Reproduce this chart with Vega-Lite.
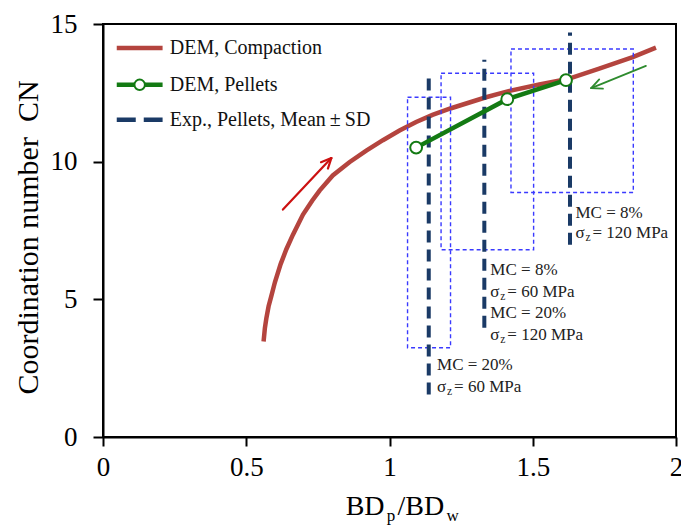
{
  "$schema": "https://vega.github.io/schema/vega-lite/v6.json",
  "width": 573,
  "height": 413,
  "autosize": {"type": "none"},
  "padding": {"left": 103, "top": 24, "right": 5, "bottom": 90},
  "background": "white",
  "config": {
    "font": "Liberation Serif",
    "view": {"stroke": "black", "strokeWidth": 2},
    "text": {"font": "Liberation Serif"},
    "axis": {
      "grid": false,
      "domainColor": "black",
      "domainWidth": 2,
      "tickColor": "black",
      "tickWidth": 2,
      "labelColor": "black",
      "labelFont": "Liberation Serif",
      "labelFontWeight": "normal",
      "titleFont": "Liberation Serif",
      "titleFontWeight": "normal",
      "titleColor": "black",
      "labelFlush": false,
      "labelOverlap": false,
      "labelBound": false
    }
  },
  "layer": [
    {
      "data": {"values": [
        {"x": 0.5605, "y": 3.47}, {"x": 0.565, "y": 3.95}, {"x": 0.570, "y": 4.30},
        {"x": 0.578, "y": 4.75}, {"x": 0.587, "y": 5.10}, {"x": 0.600, "y": 5.62},
        {"x": 0.620, "y": 6.28}, {"x": 0.640, "y": 6.82}, {"x": 0.663, "y": 7.35},
        {"x": 0.698, "y": 8.08}, {"x": 0.730, "y": 8.58}, {"x": 0.756, "y": 8.95},
        {"x": 0.802, "y": 9.50}, {"x": 0.860, "y": 9.98}, {"x": 0.919, "y": 10.40},
        {"x": 0.977, "y": 10.78}, {"x": 1.035, "y": 11.13}, {"x": 1.093, "y": 11.44},
        {"x": 1.150, "y": 11.70}, {"x": 1.215, "y": 11.94}, {"x": 1.337, "y": 12.34},
        {"x": 1.419, "y": 12.57}, {"x": 1.523, "y": 12.80}, {"x": 1.622, "y": 13.00},
        {"x": 1.732, "y": 13.38}, {"x": 1.849, "y": 13.80}, {"x": 1.930, "y": 14.14}
      ]},
      "mark": {"type": "line", "color": "#b4443e", "strokeWidth": 4.5},
      "encoding": {
        "x": {"field": "x", "type": "quantitative",
          "scale": {"domain": [0, 2], "nice": false, "zero": false},
          "axis": {"values": [0, 0.5, 1, 1.5, 2], "format": "~g", "tickSize": 9,
            "labelFontSize": 27, "labelPadding": 8, "title": null}},
        "y": {"field": "y", "type": "quantitative",
          "scale": {"domain": [0, 15], "nice": false, "zero": false},
          "axis": {"values": [0, 5, 10, 15], "tickSize": 10, "labelFontSize": 27,
            "labelPadding": 16, "title": "Coordination number\u00a0 CN",
            "titleFontSize": 30, "titleAngle": -90, "titleAlign": "center",
            "titleBaseline": "alphabetic", "titleX": -66, "titleY": 213}}
      }
    },
    {
      "data": {"values": [
        {"x": 1.063, "x2": 1.213, "y": 3.24, "y2": 12.34},
        {"x": 1.180, "x2": 1.503, "y": 6.80, "y2": 13.21},
        {"x": 1.424, "x2": 1.851, "y": 8.88, "y2": 14.09}
      ]},
      "mark": {"type": "rect", "fill": null, "fillOpacity": 0, "stroke": "#3a3aff", "strokeWidth": 1.4, "strokeDash": [4, 3]},
      "encoding": {
        "x": {"field": "x", "type": "quantitative"},
        "x2": {"field": "x2"},
        "y": {"field": "y", "type": "quantitative"},
        "y2": {"field": "y2"}
      }
    },
    {
      "data": {"values": [
        {"x": 1.137, "y": 1.54, "y2": 13.09},
        {"x": 1.331, "y": 3.97, "y2": 13.70},
        {"x": 1.630, "y": 6.98, "y2": 14.69}
      ]},
      "mark": {"type": "rule", "color": "#1a3a66", "strokeWidth": 4, "strokeDash": [12, 7]},
      "encoding": {
        "x": {"field": "x", "type": "quantitative"},
        "y": {"field": "y", "type": "quantitative"},
        "y2": {"field": "y2"}
      }
    },
    {
      "data": {"values": [
        {"x": 1.093, "y": 10.51}, {"x": 1.411, "y": 12.27}, {"x": 1.616, "y": 12.96}
      ]},
      "layer": [
        {"mark": {"type": "line", "color": "#137a13", "strokeWidth": 4.5}},
        {"mark": {"type": "point", "shape": "circle", "filled": true, "fill": "white", "stroke": "#137a13", "strokeWidth": 2, "size": 140, "opacity": 1}}
      ],
      "encoding": {
        "x": {"field": "x", "type": "quantitative"},
        "y": {"field": "y", "type": "quantitative"}
      }
    },
    {
      "data": {"values": [
        {"x": 0.628, "y": 8.26, "x2": 0.797, "y2": 10.13},
        {"x": 0.797, "y": 10.13, "x2": 0.761, "y2": 9.98},
        {"x": 0.797, "y": 10.13, "x2": 0.785, "y2": 9.75}
      ]},
      "mark": {"type": "rule", "color": "#cc1111", "strokeWidth": 2.2, "strokeCap": "round"},
      "encoding": {
        "x": {"field": "x", "type": "quantitative"},
        "y": {"field": "y", "type": "quantitative"},
        "x2": {"field": "x2"},
        "y2": {"field": "y2"}
      }
    },
    {
      "data": {"values": [
        {"x": 1.895, "y": 13.48, "x2": 1.704, "y2": 12.67},
        {"x": 1.704, "y": 12.67, "x2": 1.745, "y2": 12.65},
        {"x": 1.704, "y": 12.67, "x2": 1.732, "y2": 12.99}
      ]},
      "mark": {"type": "rule", "color": "#2e8b2e", "strokeWidth": 1.8, "strokeCap": "round"},
      "encoding": {
        "x": {"field": "x", "type": "quantitative"},
        "y": {"field": "y", "type": "quantitative"},
        "x2": {"field": "x2"},
        "y2": {"field": "y2"}
      }
    },
    {
      "data": {"values": [{"x": 0.048, "x2": 0.208, "y": 14.13}]},
      "mark": {"type": "rule", "color": "#b4443e", "strokeWidth": 4.5},
      "encoding": {
        "x": {"field": "x", "type": "quantitative"},
        "x2": {"field": "x2"},
        "y": {"field": "y", "type": "quantitative"}
      }
    },
    {
      "data": {"values": [{"x": 0.048, "x2": 0.208, "y": 12.79, "xm": 0.128}]},
      "layer": [
        {"mark": {"type": "rule", "color": "#137a13", "strokeWidth": 4.5},
          "encoding": {
            "x": {"field": "x", "type": "quantitative"},
            "x2": {"field": "x2"},
            "y": {"field": "y", "type": "quantitative"}
          }},
        {"mark": {"type": "point", "shape": "circle", "filled": true, "fill": "white", "stroke": "#137a13", "strokeWidth": 2, "size": 110, "opacity": 1},
          "encoding": {
            "x": {"field": "xm", "type": "quantitative"},
            "y": {"field": "y", "type": "quantitative"}
          }}
      ]
    },
    {
      "data": {"values": [{"x": 0.048, "x2": 0.208, "y": 11.52}]},
      "mark": {"type": "rule", "color": "#1a3a66", "strokeWidth": 4.5, "strokeDash": [19, 8]},
      "encoding": {
        "x": {"field": "x", "type": "quantitative"},
        "x2": {"field": "x2"},
        "y": {"field": "y", "type": "quantitative"}
      }
    },
    {
      "data": {"values": [
        {"x": 0.233, "y": 14.13, "label": "DEM, Compaction"},
        {"x": 0.233, "y": 12.79, "label": "DEM, Pellets"},
        {"x": 0.233, "y": 11.52, "label": "Exp., Pellets, Mean\u2009\u00b1\u2009SD"}
      ]},
      "mark": {"type": "text", "font": "Liberation Serif", "align": "left", "baseline": "middle", "fontSize": 20, "color": "#111"},
      "encoding": {
        "x": {"field": "x", "type": "quantitative"},
        "y": {"field": "y", "type": "quantitative"},
        "text": {"field": "label"}
      }
    },
    {
      "data": {"values": [
        {"x": 1.166, "y": 2.63, "t": "MC = 20%"},
        {"x": 1.352, "y": 6.07, "t": "MC = 8%"},
        {"x": 1.352, "y": 4.51, "t": "MC = 20%"},
        {"x": 1.649, "y": 8.14, "t": "MC = 8%"}
      ]},
      "mark": {"type": "text", "font": "Liberation Serif", "align": "left", "baseline": "middle", "fontSize": 17, "color": "#222"},
      "encoding": {
        "x": {"field": "x", "type": "quantitative"},
        "y": {"field": "y", "type": "quantitative"},
        "text": {"field": "t"}
      }
    },
    {
      "data": {"values": [
        {"x": 1.166, "y": 1.83, "rest": "= 60 MPa"},
        {"x": 1.352, "y": 5.27, "rest": "= 60 MPa"},
        {"x": 1.352, "y": 3.72, "rest": "= 120 MPa"},
        {"x": 1.649, "y": 7.41, "rest": "= 120 MPa"}
      ]},
      "encoding": {
        "x": {"field": "x", "type": "quantitative"},
        "y": {"field": "y", "type": "quantitative"}
      },
      "layer": [
        {"mark": {"type": "text", "font": "Liberation Serif", "text": "σ", "align": "left", "baseline": "middle", "fontSize": 17, "color": "#222"}},
        {"mark": {"type": "text", "font": "Liberation Serif", "text": "z", "align": "left", "baseline": "middle", "fontSize": 11.5, "dx": 10, "dy": 5, "color": "#222"}},
        {"mark": {"type": "text", "font": "Liberation Serif", "align": "left", "baseline": "middle", "fontSize": 17, "dx": 17, "color": "#222"},
          "encoding": {"text": {"field": "rest"}}}
      ]
    },
    {
      "data": {"values": [
        {"x": 0.847, "y": -2.82, "t": "BD"},
        {"x": 1.028, "y": -2.82, "t": "/BD"}
      ]},
      "mark": {"type": "text", "font": "Liberation Serif", "align": "left", "baseline": "alphabetic", "fontSize": 28, "color": "black"},
      "encoding": {
        "x": {"field": "x", "type": "quantitative"},
        "y": {"field": "y", "type": "quantitative"},
        "text": {"field": "t"}
      }
    },
    {
      "data": {"values": [
        {"x": 0.990, "y": -3.05, "t": "p"},
        {"x": 1.199, "y": -3.05, "t": "w"}
      ]},
      "mark": {"type": "text", "font": "Liberation Serif", "align": "left", "baseline": "alphabetic", "fontSize": 17, "color": "black"},
      "encoding": {
        "x": {"field": "x", "type": "quantitative"},
        "y": {"field": "y", "type": "quantitative"},
        "text": {"field": "t"}
      }
    }
  ]
}
